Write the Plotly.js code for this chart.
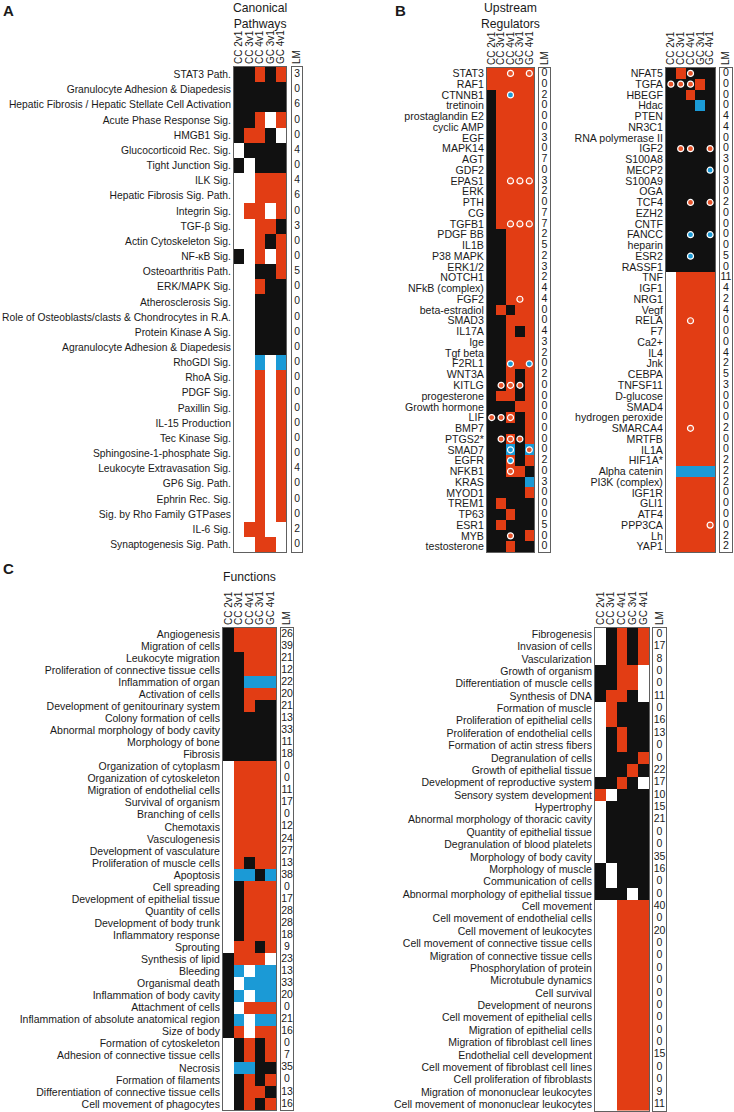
<!DOCTYPE html>
<html><head><meta charset="utf-8">
<script src="https://cdn.plot.ly/plotly-3.0.1.min.js"></script>
<style>html,body{margin:0;padding:0;background:#fff;}#chart{width:734px;height:1112px;}</style>
</head><body><div id="chart"></div>
<script>
// ---------- DATA ----------
const cols = ["CC 2v1","CC 3v1","CC 4v1","GC 3v1","GC 4v1"];
// cell codes: w = not significant (white), k = black, r = red, b = blue
// circle codes: o = orange circle, b = blue circle, . = none

const aRows = ["STAT3 Path.","Granulocyte Adhesion & Diapedesis","Hepatic Fibrosis / Hepatic Stellate Cell Activation","Acute Phase Response Sig.","HMGB1 Sig.","Glucocorticoid Rec. Sig.","Tight Junction Sig.","ILK Sig.","Hepatic Fibrosis Sig. Path.","Integrin Sig.","TGF-β Sig.","Actin Cytoskeleton Sig.","NF-κB Sig.","Osteoarthritis Path.","ERK/MAPK Sig.","Atherosclerosis Sig.","Role of Osteoblasts/clasts & Chondrocytes in R.A.","Protein Kinase A Sig.","Agranulocyte Adhesion & Diapedesis","RhoGDI Sig.","RhoA Sig.","PDGF Sig.","Paxillin Sig.","IL-15 Production","Tec Kinase Sig.","Sphingosine-1-phosphate Sig.","Leukocyte Extravasation Sig.","GP6 Sig. Path.","Ephrin Rec. Sig.","Sig. by Rho Family GTPases","IL-6 Sig.","Synaptogenesis Sig. Path."];
const aCells = ["kkrkr","kkkkk","kkkkk","kkrwr","krrkw","wkkkk","kwkkk","wwrrr","wwrrr","wrrwr","wwrrk","wwrkr","kwrwr","wwkkr","wwrkk","wwkkk","wwkkk","wwkkk","wwkkk","wwbwb","wwrwr","wwrwr","wwrwr","wwrwr","wwrwr","wwrwr","wwrwr","wwrwr","wwrwr","wwrwr","wrrww","wwrrw"];
const aLM = [3,0,6,0,0,4,0,4,6,0,3,0,0,5,0,0,0,0,0,0,0,0,0,0,0,0,4,0,0,0,2,0];

const b1Rows = ["STAT3","RAF1","CTNNB1","tretinoin","prostaglandin E2","cyclic AMP","EGF","MAPK14","AGT","GDF2","EPAS1","ERK","PTH","CG","TGFB1","PDGF BB","IL1B","P38 MAPK","ERK1/2","NOTCH1","NFkB (complex)","FGF2","beta-estradiol","SMAD3","IL17A","Ige","Tgf beta","F2RL1","WNT3A","KITLG","progesterone","Growth hormone","LIF","BMP7","PTGS2*","SMAD7","EGFR","NFKB1","KRAS","MYOD1","TREM1","TP63","ESR1","MYB","testosterone"];
const b1Cells = ["rrrrr","rrrrr","krrrr","krrrr","krrrr","krrrr","krrrr","krrrr","krrrr","krrrr","krrrr","krrrr","krrrr","krrrr","krrrr","kkrrr","kkrrr","kkrrr","kkrrr","kkrrr","kkrrr","kkrrr","krkrr","kkrrr","kkrkr","kkrrr","kkrrr","kkrrr","kkrkr","kkrkr","krrkr","kkkrr","kkrkr","kkkkr","kkrkr","kkbkb","kkrkr","kkrrk","kkkkb","kkkkr","krkkk","kkrkk","krkkk","kkkkr","kkrkk"];
const b1Circ = ["..o.o",".....","..b..",".....",".....",".....",".....",".....",".....",".....","..ooo",".....",".....",".....","..ooo",".....",".....",".....",".....",".....",".....","...o.",".....",".....",".....",".....",".....","..b.b",".....",".ooo.",".....",".....","ooo..",".....",".ooo.","..b.o","..b..","..o..",".....",".....",".....",".....",".....","..o..","....."];
const b1LM = [0,0,2,0,0,0,3,0,7,0,3,2,0,7,7,2,5,2,3,2,4,4,0,0,4,3,2,0,2,0,0,0,0,0,0,0,2,0,3,0,0,0,5,0,0];

const b2Rows = ["NFAT5","TGFA","HBEGF","Hdac","PTEN","NR3C1","RNA polymerase II","IGF2","S100A8","MECP2","S100A9","OGA","TCF4","EZH2","CNTF","FANCC","heparin","ESR2","RASSF1","TNF","IGF1","NRG1","Vegf","RELA","F7","Ca2+","IL4","Jnk","CEBPA","TNFSF11","D-glucose","SMAD4","hydrogen peroxide","SMARCA4","MRTFB","IL1A","HIF1A*","Alpha catenin","PI3K (complex)","IGF1R","GLI1","ATF4","PPP3CA","Lh","YAP1"];
const b2Cells = ["krkkk","kkkrk","kkrkk","kkkbk","kkkkk","kkkkk","kkkkk","kkkkk","kkkkk","kkkkk","kkkkk","kkkkk","kkkkk","kkkkk","kkkkk","kkkkk","kkkkk","kkkkk","kkkkk","wrrrr","wrrrr","wrrrr","wrrrr","wrrrr","wrrrr","wrrrr","wrrrr","wrrrr","wrrrr","wrrrr","wrrrr","wrrrr","wrrrr","wrrrr","wrrrr","wrrrr","wrrrr","wbbbb","wrrrr","wrrrr","wrrrr","wrrrr","wrrrr","wrrrr","wrrrr"];
const b2Circ = ["..o..","ooo..",".....",".....",".....",".....",".....",".oo.o",".....","....b",".....",".....","..o.o",".....",".....","..b.b",".....","..b..",".....",".....",".....",".....",".....","..o..",".....",".....",".....",".....",".....",".....",".....",".....",".....","..o..",".....",".....",".....",".....",".....",".....",".....",".....","....o",".....","....."];
const b2LM = [0,0,0,0,4,4,0,0,3,0,3,0,2,0,0,0,0,5,0,11,4,2,4,0,0,0,4,2,5,3,0,0,0,2,0,0,2,2,2,0,0,0,0,2,2];

const c1Rows = ["Angiogenesis","Migration of cells","Leukocyte migration","Proliferation of connective tissue cells","Inflammation of organ","Activation of cells","Development of genitourinary system","Colony formation of cells","Abnormal morphology of body cavity","Morphology of bone","Fibrosis","Organization of cytoplasm","Organization of cytoskeleton","Migration of endothelial cells","Survival of organism","Branching of cells","Chemotaxis","Vasculogenesis","Development of vasculature","Proliferation of muscle cells","Apoptosis","Cell spreading","Development of epithelial tissue","Quantity of cells","Development of body trunk","Inflammatory response","Sprouting","Synthesis of lipid","Bleeding","Organismal death","Inflammation of body cavity","Attachment of cells","Inflammation of absolute anatomical region","Size of body","Formation of cytoskeleton","Adhesion of connective tissue cells","Necrosis","Formation of filaments","Differentiation of connective tissue cells","Cell movement of phagocytes"];
const c1Cells = ["krrrr","krrrr","kkrrr","kkrrr","kkbbb","kkrrr","kkrkk","kkkkk","kkkkk","kkkkk","kkkkk","wrrrr","wrrrr","wrrrr","wrrrr","wrrrr","wrrrr","wrrrr","wrrrr","wrkrr","wbbkb","wkrrr","wkrrr","wkrrr","wkrrr","wkrrr","wrrkr","krrrw","kbwbb","kwbbb","kbwbb","kwrrr","kbwbb","krwrr","wkrkr","wkrkr","wbbkk","wkrkr","wkrrk","wkrkr"];
const c1LM = [26,39,21,12,22,20,21,13,33,11,18,0,0,11,17,0,12,24,27,13,38,0,17,28,28,18,9,23,13,33,20,0,21,16,0,7,35,0,13,16];

const c2Rows = ["Fibrogenesis","Invasion of cells","Vascularization","Growth of organism","Differentiation of muscle cells","Synthesis of DNA","Formation of muscle","Proliferation of epithelial cells","Proliferation of endothelial cells","Formation of actin stress fibers","Degranulation of cells","Growth of epithelial tissue","Development of reproductive system","Sensory system development","Hypertrophy","Abnormal morphology of thoracic cavity","Quantity of epithelial tissue","Degranulation of blood platelets","Morphology of body cavity","Morphology of muscle","Communication of cells","Abnormal morphology of epithelial tissue","Cell movement","Cell movement of endothelial cells","Cell movement of leukocytes","Cell movement of connective tissue cells","Migration of connective tissue cells","Phosphorylation of protein","Microtubule dynamics","Cell survival","Development of neurons","Cell movement of epithelial cells","Migration of epithelial cells","Migration of fibroblast cell lines","Endothelial cell development","Cell movement of fibroblast cell lines","Cell proliferation of fibroblasts","Migration of mononuclear leukocytes","Cell movement of mononuclear leukocytes"];
const c2Cells = ["wkrkr","wkrkr","wkrkr","kkrrw","kkrrw","krrkw","wrkkk","wrkkk","wkrkk","wkrkk","wkkkr","wkkrk","kkrkw","rwkkk","wkkkk","wkkkk","wkkkk","wkkkk","wkkkk","kwkkk","kwkkk","kkkwk","wwrrr","wwrrr","wwrrr","wwrrr","wwrrr","wwrrr","wwrrr","wwrrr","wwrrr","wwrrr","wwrrr","wwrrr","wwrrr","wwrrr","wwrrr","wwrrr","wwrrr"];
const c2LM = [0,17,8,0,0,11,0,16,13,0,0,22,17,10,15,21,0,0,35,16,0,0,40,0,20,0,0,0,0,0,0,0,0,0,15,0,0,9,11];

// ---------- STYLE / LAYOUT ----------
const W = 734, H = 1112;
const FONT = "Liberation Sans, Arial, sans-serif";
const TXT = "#1a1a1a";
const RED = "#e23d14", BLUE = "#1b9ad6", BLACK = "#111111";
const codeVal = {w:0, k:1, r:2, b:3};
const colorscale = [[0,"#ffffff"],[0.1667,"#ffffff"],[0.1667,BLACK],[0.5,BLACK],[0.5,RED],[0.8333,RED],[0.8333,BLUE],[1,BLUE]];

const panels = [
  {rows:aRows, cells:aCells, circ:null, lm:aLM, hx:[234,286], lx:[292,302], yt:67, yb:552, fs:10.3},
  {rows:b1Rows, cells:b1Cells, circ:b1Circ, lm:b1LM, hx:[487,534], lx:[539,550], yt:68, yb:552, fs:10.6},
  {rows:b2Rows, cells:b2Cells, circ:b2Circ, lm:b2LM, hx:[666,715], lx:[720,732], yt:68, yb:552, fs:10.6},
  {rows:c1Rows, cells:c1Cells, circ:null, lm:c1LM, hx:[223,276], lx:[281,293], yt:628, yb:1110, fs:10.5},
  {rows:c2Rows, cells:c2Cells, circ:null, lm:c2LM, hx:[595,649], lx:[653,666], yt:628, yb:1110.5, fs:10.5}
];

const data = [];
const layout = {
  width: W, height: H, margin:{l:0,r:0,t:0,b:0},
  paper_bgcolor:"#fff", plot_bgcolor:"#fff", showlegend:false, hovermode:false,
  font:{family:FONT, size:10, color:TXT},
  annotations: []
};

function axName(n){ return n===1 ? "" : String(n); }

panels.forEach((p, i) => {
  const nh = 2*i+1, nl = 2*i+2;
  const n = p.rows.length;
  const idx = p.rows.map((_, k) => k);
  const ydom = [1 - p.yb/H, 1 - p.yt/H];
  const lineStyle = {showline:true, mirror:true, linecolor:"#606060", linewidth:1, showgrid:false, zeroline:false, ticks:"", fixedrange:true};
  const tf = {family:FONT, size:p.fs, color:TXT};
  const cf = {family:FONT, size:10, color:TXT};
  layout["xaxis"+axName(nh)] = Object.assign({}, lineStyle, {
    domain:[p.hx[0]/W, p.hx[1]/W], range:[-0.5,4.5], side:"top", anchor:"y"+axName(nh),
    tickmode:"array", tickvals:[0,1,2,3,4], ticktext:cols, tickangle:-90, tickfont:cf
  });
  layout["yaxis"+axName(nh)] = Object.assign({}, lineStyle, {
    domain:ydom, range:[n-0.5,-0.5], anchor:"x"+axName(nh),
    tickmode:"array", tickvals:idx, ticktext:p.rows, tickfont:tf
  });
  layout["xaxis"+axName(nl)] = Object.assign({}, lineStyle, {
    domain:[p.lx[0]/W, p.lx[1]/W], range:[-0.5,0.5], side:"top", anchor:"y"+axName(nl),
    tickmode:"array", tickvals:[0], ticktext:["LM"], tickangle:-90, tickfont:cf
  });
  layout["yaxis"+axName(nl)] = Object.assign({}, lineStyle, {
    domain:ydom, range:[n-0.5,-0.5], anchor:"x"+axName(nl), showticklabels:false
  });

  const z = p.cells.map(s => s.split("").map(c => codeVal[c]));
  data.push({type:"heatmap", z:z, x:[0,1,2,3,4], y:idx, zmin:0, zmax:3,
    colorscale:colorscale, showscale:false, hoverinfo:"skip",
    xaxis:"x"+axName(nh), yaxis:"y"+axName(nh)});

  if (p.circ) {
    const cx = [], cy = [], cc = [];
    p.circ.forEach((s, r) => s.split("").forEach((c, k) => {
      if (c === "o" || c === "b") { cx.push(k); cy.push(r); cc.push(c === "o" ? "#e8542a" : BLUE); }
    }));
    data.push({type:"scatter", mode:"markers", x:cx, y:cy,
      marker:{size:6, color:cc, line:{color:"#ffffff", width:1.2}},
      hoverinfo:"skip", xaxis:"x"+axName(nh), yaxis:"y"+axName(nh)});
  }

  data.push({type:"scatter", mode:"text", x:p.lm.map(() => 0), y:idx, text:p.lm.map(String),
    textposition:"middle center", textfont:tf,
    hoverinfo:"skip", xaxis:"x"+axName(nl), yaxis:"y"+axName(nl)});
});

function ann(text, xpx, ypx, size, bold, anchor) {
  layout.annotations.push({text: bold ? "<b>"+text+"</b>" : text, xref:"paper", yref:"paper",
    x:xpx/W, y:1-ypx/H, xanchor:anchor||"center", yanchor:"top", showarrow:false,
    font:{family:FONT, size:size, color:TXT}});
}
ann("A", 1, 0, 15, true, "left");
ann("B", 393, 0, 15, true, "left");
ann("C", 1, 558, 15, true, "left");
ann("Canonical<br>Pathways", 260, -1, 12.2, false);
ann("Upstream<br>Regulators", 510.5, -1, 12.2, false);
ann("Functions", 249.5, 568, 12.2, false);

Plotly.newPlot("chart", data, layout, {staticPlot:true, displayModeBar:false});
</script></body></html>
